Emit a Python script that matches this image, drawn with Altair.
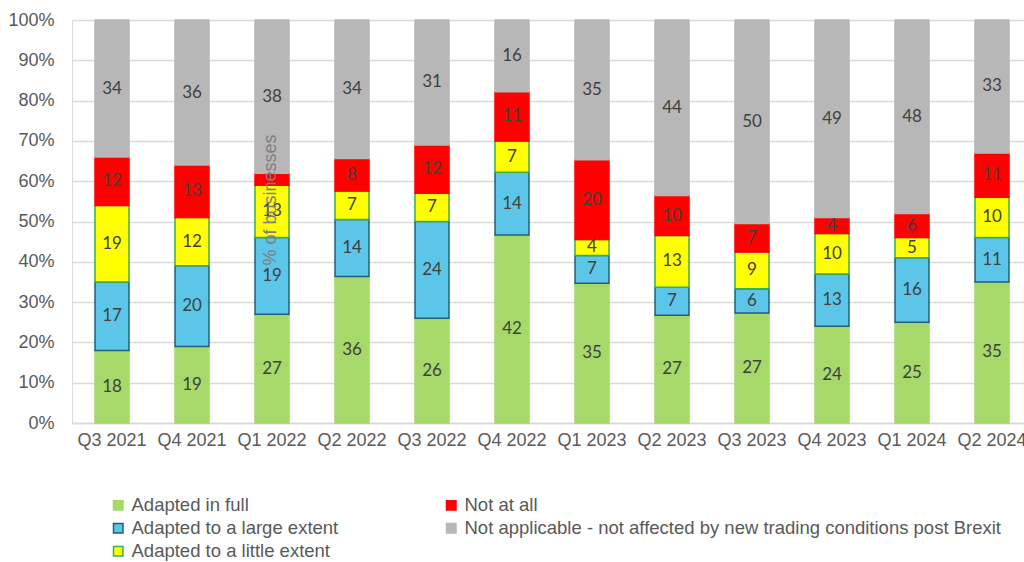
import altair as alt
import pandas as pd

quarters = ["Q3 2021", "Q4 2021", "Q1 2022", "Q2 2022", "Q3 2022", "Q4 2022",
            "Q1 2023", "Q2 2023", "Q3 2023", "Q4 2023", "Q1 2024", "Q2 2024"]
categories = ["Adapted in full", "Adapted to a large extent", "Adapted to a little extent",
              "Not at all", "Not applicable - not affected by new trading conditions post Brexit"]

adapted_full = [18, 19, 27, 36, 26, 42, 35, 27, 27, 24, 25, 35]
adapted_large = [17, 20, 19, 14, 24, 14, 7, 7, 6, 13, 16, 11]
adapted_little = [19, 12, 13, 7, 7, 7, 4, 13, 9, 10, 5, 10]
not_at_all = [12, 13, 3, 8, 12, 11, 20, 10, 7, 4, 6, 11]
not_applicable = [34, 36, 38, 34, 31, 16, 35, 44, 50, 49, 48, 33]

series = [adapted_full, adapted_large, adapted_little, not_at_all, not_applicable]
fills = ["#A6D86A", "#5BC6E8", "#FFFF00", "#FF0000", "#B7B7B7"]
strokes = ["#A6D86A", "#1F5F78", "#3DB04B", "#FF0000", "#B7B7B7"]

rows = []
for ci, (cat, vals) in enumerate(zip(categories, series)):
    for q, v in zip(quarters, vals):
        rows.append({"quarter": q, "category": cat, "value": v, "order": ci})
df = pd.DataFrame(rows)

color_scale = alt.Scale(domain=categories, range=fills)
stroke_scale = alt.Scale(domain=categories, range=strokes)

legend = alt.Legend(
    title=None, orient="none", legendX=37, legendY=476, columns=2,
    columnPadding=103, rowPadding=4, symbolType="square", symbolSize=90,
    symbolStrokeWidth=1.5, labelFontSize=18.5, labelColor="#595959",
    labelFont="Liberation Sans", labelOffset=4, labelLimit=700,
)

x_enc = alt.X("quarter:N", sort=quarters, title=None,
              scale=alt.Scale(range=[0, 960], paddingInner=0.575, paddingOuter=0.2875),
              axis=alt.Axis(labelAngle=0, labelFontSize=18, labelColor="#595959",
                            labelFont="Liberation Sans", ticks=False, domainColor="#D9D9D9",
                            domainWidth=1.5, labelPadding=8, grid=False))

base = alt.Chart(df)

bars = base.mark_bar(size=34, strokeWidth=1.5).encode(
    x=x_enc,
    y=alt.Y("value:Q", stack="normalize", title=None,
            scale=alt.Scale(domain=[0, 1]),
            axis=alt.Axis(format=".0%", values=[i / 10 for i in range(11)],
                          labelFontSize=18, labelColor="#595959", labelFont="Liberation Sans",
                          ticks=False, domain=False, gridColor="#D9D9D9", gridWidth=1.5,
                          labelPadding=18)),
    color=alt.Color("category:N", scale=color_scale, legend=legend),
    stroke=alt.Stroke("category:N", scale=stroke_scale, legend=legend),
    order=alt.Order("order:Q", sort="ascending"),
)

labels = base.transform_stack(
    stack="value", groupby=["quarter"], as_=["y0", "y1"], offset="normalize",
    sort=[alt.SortField("order", order="ascending")]
).transform_calculate(
    mid="(datum.y0 + datum.y1) / 2"
).transform_filter(
    "datum.value >= 4"
).mark_text(fontSize=17, font="Lato", color="#404040", baseline="middle").encode(
    x=alt.X("quarter:N", sort=quarters),
    y=alt.Y("mid:Q"),
    text=alt.Text("value:Q"),
)

axis_title = alt.Chart(pd.DataFrame({"t": ["% of businesses"]})).mark_text(
    angle=270, fontSize=18, font="Liberation Sans", color="#7F7F7F",
    align="center", baseline="middle"
).encode(x=alt.value(199), y=alt.value(180), text="t:N")

chart = alt.layer(bars, labels, axis_title).properties(
    width=952, height=403,
    autosize=alt.AutoSizeParams(type="none"),
    padding={"left": 72, "top": 20, "right": 0, "bottom": 139},
).configure_view(stroke=None).configure(background="white")

chart.save("out.html", embed_options={"renderer": "svg", "actions": False})
